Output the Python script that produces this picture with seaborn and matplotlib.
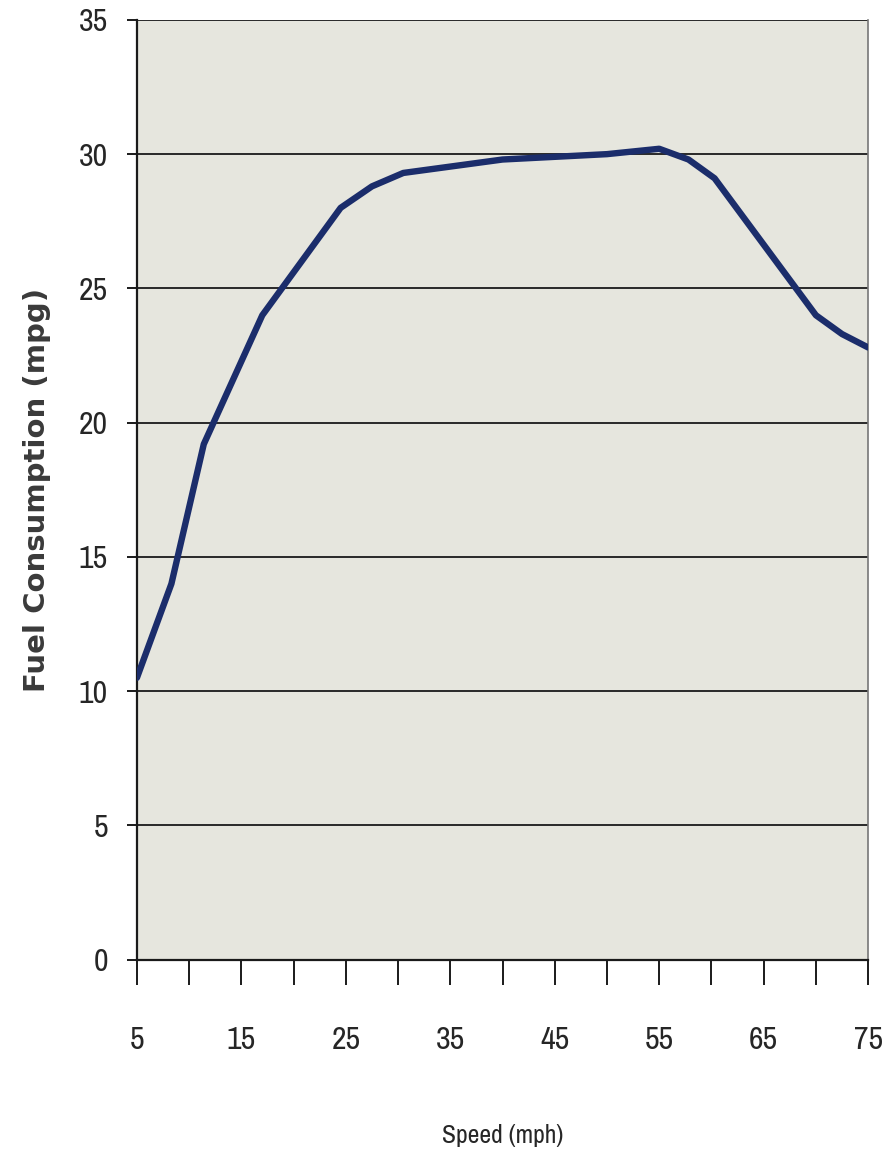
import matplotlib
matplotlib.use("Agg")
import matplotlib.pyplot as plt
import seaborn as sns
import pandas as pd
from matplotlib import font_manager

# values
speed_mph = [5, 8.3, 11.4, 17, 24.5, 27.5, 30.5, 40, 50, 55, 57.8, 60.3, 70, 72.5, 75]
fuel_mpg = [10.5, 14.0, 19.2, 24.0, 28.0, 28.8, 29.3, 29.8, 30.0, 30.2, 29.8, 29.1, 24.0, 23.3, 22.8]

x_ticks = list(range(5, 80, 5))
x_tick_labels = [str(v) if (v - 5) % 10 == 0 else "" for v in x_ticks]
y_ticks = list(range(0, 40, 5))

df = pd.DataFrame({"speed": speed_mph, "mpg": fuel_mpg})

sns.set_style("white")
# pick an installed narrow face for the condensed tick labels
names = sorted({f.name for f in font_manager.fontManager.ttflist})
narrow = [n for n in names if "Narrow" in n or "Condensed" in n]
plt.rcParams["font.family"] = narrow[:1] + ["DejaVu Sans"]

fig = plt.figure(figsize=(8.95, 11.69), dpi=100)
ax = fig.add_axes([0.153, 0.179, 0.817, 0.804])
ax.set_facecolor("#e6e6de")

# horizontal grid lines
for y in y_ticks[1:]:
    ax.axhline(y, color="#1a1a1a", lw=1.3, zorder=1)

sns.lineplot(data=df, x="speed", y="mpg", sort=False, color="#1b2d6b",
             lw=4.6, ax=ax, zorder=3)

ax.set_xlim(5, 75)
ax.set_ylim(0, 35)
ax.set_xticks(x_ticks)
ax.set_xticklabels(x_tick_labels)
ax.set_yticks(y_ticks)

ax.tick_params(axis="x", direction="out", length=18, width=1.4, color="#1a1a1a",
               labelsize=23, pad=30, bottom=True)
ax.tick_params(axis="y", direction="out", length=7, width=1.4, color="#1a1a1a",
               labelsize=23, pad=14, left=True)
for lab in ax.get_xticklabels() + ax.get_yticklabels():
    lab.set_fontstretch("condensed")

for side in ["left", "bottom"]:
    ax.spines[side].set_color("#1a1a1a")
    ax.spines[side].set_linewidth(1.6)
ax.spines["top"].set_visible(False)
ax.spines["right"].set_color("#777777")
ax.spines["right"].set_linewidth(1.2)

ax.set_xlabel("Speed (mph)", fontsize=18.5, labelpad=50, fontstretch="condensed")
ax.set_ylabel("Fuel Consumption (mpg)", fontsize=21, fontweight="bold",
              family=["DejaVu Sans"], color="#3a3a3a", labelpad=20)

fig.savefig("out.png", dpi=100)
